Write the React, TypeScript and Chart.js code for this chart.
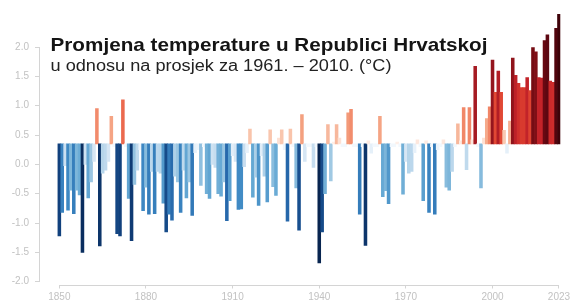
import { useEffect, useRef } from "react";
import { Chart, registerables } from "chart.js";

Chart.register(...registerables);

// ---- data -------------------------------------------------------------
const START_YEAR = 1850;
const BASELINE = 0.35; // where the bars start on the axis

const values1850s = [-1.22, -0.82, -0.02, -0.78, -0.44, -0.84, -0.44, -0.52, -1.5, 0.0];
const values1860s = [-0.57, -0.3, 0.05, 0.95, -1.39, -0.15, -0.1, 0.05, 0.82, 0.3];
const values1870s = [-1.18, -1.22, 1.1, 0.3, -0.58, -1.3, -0.34, -0.1, 0.25, -0.79];
const values1880s = [-0.39, -0.85, -0.12, -0.84, -0.12, -0.15, -0.66, -1.15, -0.85, -0.95];
const values1890s = [-0.2, -0.3, -0.82, -0.1, -0.57, -0.3, -0.87, 0.2, 0.25, -0.36];
const values1900s = [0.3, -0.5, -0.58, 0.0, -0.05, -0.5, -0.54, -0.3, -0.96, -0.62];
const values1910s = [0.15, 0.05, -0.77, -0.76, -0.04, 0.2, 0.6, -0.56, -0.22, -0.7];
const values1920s = [0.15, -0.2, -0.64, 0.59, -0.38, -0.53, 0.45, 0.59, 0.25, -0.97];
const values1930s = [0.6, 0.3, -0.4, -1.12, 0.85, 0.05, 0.3, 0.3, -0.05, 0.3];
const values1940s = [-1.68, -1.15, -0.5, 0.68, -0.28, 0.38, 0.68, 0.45, 0.3, 0.3];
const values1950s = [0.88, 0.94, 0.3, 0.3, -0.85, 0.3, -1.38, 0.4, 0.19, 0.3];
const values1960s = [0.3, 0.82, -0.55, -0.45, -0.67, 0.3, 0.3, 0.38, 0.3, -0.51];
const values1970s = [0.05, -0.15, -0.12, 0.2, 0.42, 0.3, -0.62, 0.4, -0.82, 0.3];
const values1980s = [-0.85, 0.25, 0.3, 0.42, -0.39, -0.44, -0.12, 0.3, 0.69, 0.4];
const values1990s = [0.97, -0.09, 0.97, 0.42, 1.67, 0.3, -0.4, 0.45, 0.78, 0.98];
const values2000s = [1.78, 1.23, 1.59, 1.23, 0.58, 0.19, 0.74, 1.81, 1.52, 1.38];
const values2010s = [1.31, 1.31, 1.48, 1.26, 1.99, 1.92, 1.48, 1.47, 2.11, 2.21];
const values2020s = [1.42, 1.4, 2.32, 2.56];

const values = [
  ...values1850s, ...values1860s, ...values1870s, ...values1880s, ...values1890s,
  ...values1900s, ...values1910s, ...values1920s, ...values1930s, ...values1940s,
  ...values1950s, ...values1960s, ...values1970s, ...values1980s, ...values1990s,
  ...values2000s, ...values2010s, ...values2020s,
];
const years = values.map((_, i) => START_YEAR + i);

const xTickYears = [1850, 1880, 1910, 1940, 1970, 2000, 2023];
const yTickValues = [-2, -1.5, -1, -0.5, 0, 0.5, 1, 1.5, 2];

const TITLE = "Promjena temperature u Republici Hrvatskoj";
const SUBTITLE = "u odnosu na prosjek za 1961. – 2010. (°C)";

// ---- styles -----------------------------------------------------------
const FONT = '"Liberation Sans", Arial, Helvetica, sans-serif';
const AXIS_COLOR = "#d4d4d4";
const TICK_COLOR = "#c2c2c2";

const BLUE_STOPS: [number, string][] = [
  [0, "#f7fbff"], [0.3, "#d6e6f4"], [0.6, "#a6cce5"], [0.9, "#66a9d4"],
  [1.15, "#3b86c2"], [1.35, "#2262a6"], [1.55, "#12437f"], [1.8, "#0b3063"], [2.1, "#07224a"],
];
const RED_STOPS: [number, string][] = [
  [0, "#fff5f0"], [0.25, "#f9c4ab"], [0.5, "#f4a07f"], [0.7, "#ef7658"],
  [0.9, "#df4330"], [1.1, "#c7242a"], [1.35, "#a11a22"], [1.6, "#7a0d14"],
  [1.9, "#590610"], [2.25, "#3a0208"],
];

function hexToRgb(h: string) {
  const n = parseInt(h.slice(1), 16);
  return [(n >> 16) & 255, (n >> 8) & 255, n & 255];
}
function interp(stops: [number, string][], t: number) {
  if (t <= stops[0][0]) return stops[0][1];
  for (let i = 1; i < stops.length; i++) {
    if (t <= stops[i][0]) {
      const [t0, c0] = stops[i - 1];
      const [t1, c1] = stops[i];
      const f = (t - t0) / (t1 - t0);
      const a = hexToRgb(c0);
      const b = hexToRgb(c1);
      const c = a.map((v, k) => Math.round(v + (b[k] - v) * f));
      return `rgb(${c[0]},${c[1]},${c[2]})`;
    }
  }
  return stops[stops.length - 1][1];
}
function barColor(v: number) {
  const a = v - BASELINE;
  return a >= 0 ? interp(RED_STOPS, a) : interp(BLUE_STOPS, -a);
}

const decorPlugin = {
  id: "decor",
  afterDraw(chart: any) {
    const { ctx } = chart;
    const x = chart.scales.x;
    const y = chart.scales.y;
    ctx.save();
    ctx.strokeStyle = AXIS_COLOR;
    ctx.lineWidth = 1;
    // y axis line (from 2.0 to -2.0)
    const ax = Math.round(y.right) - 0.5;
    ctx.beginPath();
    ctx.moveTo(ax, y.getPixelForValue(yTickValues[yTickValues.length - 1]));
    ctx.lineTo(ax, y.getPixelForValue(yTickValues[0]));
    ctx.stroke();
    // x axis line (from first to last year tick)
    const ay = Math.round(x.top) + 0.5;
    ctx.beginPath();
    ctx.moveTo(x.getPixelForValue(xTickYears[0]), ay);
    ctx.lineTo(x.getPixelForValue(xTickYears[xTickYears.length - 1]), ay);
    ctx.stroke();

    // title + subtitle
    const drawStretched = (text: string, font: string, color: string, left: number, base: number, width: number) => {
      ctx.font = font;
      ctx.fillStyle = color;
      ctx.textAlign = "left";
      ctx.textBaseline = "alphabetic";
      const m = ctx.measureText(text).width;
      ctx.save();
      ctx.translate(left, base);
      ctx.scale(width / m, 1);
      ctx.fillText(text, 0, 0);
      ctx.restore();
    };
    drawStretched(TITLE, `bold 18.5px ${FONT}`, "#141414", 50.5, 50.5, 437);
    drawStretched(SUBTITLE, `16px ${FONT}`, "#222222", 50.5, 70.5, 341);
    ctx.restore();
  },
};

export default function App() {
  const ref = useRef<HTMLCanvasElement>(null);

  useEffect(() => {
    document.body.style.margin = "0";
    const chart = new Chart(ref.current as HTMLCanvasElement, {
      type: "bar",
      data: {
        datasets: [
          {
            data: years.map((yr, i) => ({ x: yr, y: values[i] })),
            base: BASELINE,
            backgroundColor: values.map(barColor),
            borderWidth: 0,
            barPercentage: 1,
            categoryPercentage: 1,
          } as any,
        ],
      },
      options: {
        animation: false,
        responsive: true,
        maintainAspectRatio: false,
        layout: { padding: { top: 6, right: 13.6, left: 0, bottom: 0 } },
        plugins: { legend: { display: false }, tooltip: { enabled: false }, title: { display: false } },
        scales: {
          x: {
            type: "linear",
            min: 1843.3,
            max: 2023.5,
            offset: false,
            grid: { drawOnChartArea: false, drawTicks: true, tickLength: 4, color: AXIS_COLOR, offset: false },
            border: { display: false },
            ticks: {
              autoSkip: false,
              maxRotation: 0,
              color: TICK_COLOR,
              font: { family: FONT, size: 10 },
              padding: 3,
              callback: (v: any) => String(v),
            },
            afterBuildTicks: (s: any) => {
              s.ticks = xTickYears.map((v) => ({ value: v }));
            },
            afterFit: (s: any) => {
              s.height = 17.5;
              s.paddingLeft = 0;
              s.paddingRight = 0;
            },
          },
          y: {
            type: "linear",
            min: -2.048,
            max: 2.7,
            grid: { drawOnChartArea: false, drawTicks: true, tickLength: 5, color: AXIS_COLOR },
            border: { display: false },
            ticks: {
              color: TICK_COLOR,
              font: { family: FONT, size: 10 },
              padding: 6,
              callback: (v: any) => Number(v).toFixed(1),
            },
            afterBuildTicks: (s: any) => {
              s.ticks = yTickValues.map((v) => ({ value: v }));
            },
            afterFit: (s: any) => {
              s.width = 40;
              s.paddingTop = 0;
              s.paddingBottom = 0;
            },
          },
        },
      },
      plugins: [decorPlugin],
    });
    return () => chart.destroy();
  }, []);

  return (
    <div style={{ position: "fixed", left: 0, top: 0, width: 574, height: 302, background: "#ffffff" }}>
      <canvas ref={ref} />
    </div>
  );
}
